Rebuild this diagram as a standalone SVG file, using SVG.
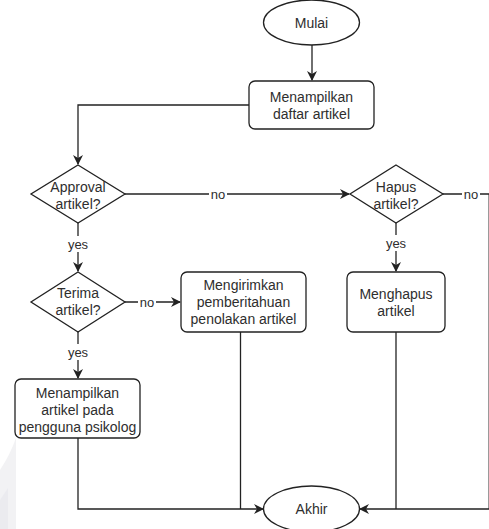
<svg xmlns="http://www.w3.org/2000/svg" width="489" height="529" viewBox="0 0 489 529">
  <style>
    .shape { fill: #ffffff; stroke: #222222; stroke-width: 1.3; }
    .edge { fill: none; stroke: #222222; stroke-width: 1.3; }
    .lbl { font-family: "Liberation Sans", Arial, sans-serif; font-size: 14px; fill: #2e2e2e; text-anchor: middle; }
    .elbl { font-family: "Liberation Sans", Arial, sans-serif; font-size: 13px; fill: #2e2e2e; text-anchor: middle; }
    .bg { fill: #ffffff; }
  </style>
  <defs>
    <marker id="arrow" viewBox="0 0 10 10" refX="9" refY="5" markerWidth="10" markerHeight="10" markerUnits="userSpaceOnUse" orient="auto">
      <path d="M0,0 L10,5 L0,10 L3,5 Z" fill="#222222"/>
    </marker>
  </defs>
  <rect width="489" height="529" fill="#ffffff"/>

  <!-- faint background mark, lower left -->
  <path d="M0,470 Q10,455 16,438 L16,529 L0,529 Z" fill="#f2f2f4"/>
  <path d="M0,500 L8,488 L8,529 L0,529 Z" fill="#ebebef"/>

  <g id="connectors">
    <path class="edge" d="M312,45 V80" marker-end="url(#arrow)"/>
    <path class="edge" d="M249,105 H78 V164" marker-end="url(#arrow)"/>
    <path class="edge" d="M125,194 H349" marker-end="url(#arrow)"/>
    <path class="edge" d="M78,223 V271" marker-end="url(#arrow)"/>
    <path class="edge" d="M125,302 H180" marker-end="url(#arrow)"/>
    <path class="edge" d="M78,332 V378" marker-end="url(#arrow)"/>
    <path class="edge" d="M396,223 V271" marker-end="url(#arrow)"/>
    <path class="edge" d="M78,438 V509 H263" marker-end="url(#arrow)"/>
    <path class="edge" d="M240.5,332 V509"/>
    <path class="edge" d="M443,194 H489.2 V509 H360" marker-end="url(#arrow)"/>
    <path class="edge" d="M396,332 V509"/>

    <rect class="bg" x="209" y="186" width="18" height="16"/>
    <text class="elbl" x="218" y="198.5">no</text>
    <rect class="bg" x="462" y="186" width="18" height="16"/>
    <text class="elbl" x="471" y="198.5">no</text>
    <rect class="bg" x="138" y="294" width="18" height="16"/>
    <text class="elbl" x="147" y="306.5">no</text>
    <rect class="bg" x="66" y="236" width="24" height="16"/>
    <text class="elbl" x="78" y="248.5">yes</text>
    <rect class="bg" x="66" y="344" width="24" height="16"/>
    <text class="elbl" x="78" y="356.5">yes</text>
    <rect class="bg" x="384" y="235" width="24" height="16"/>
    <text class="elbl" x="396" y="247.5">yes</text>
  </g>

  <g id="mulai">
    <ellipse class="shape" cx="311.5" cy="22.5" rx="48" ry="22.5"/>
    <text class="lbl" x="311.5" y="27.5">Mulai</text>
  </g>

  <g id="daftar-artikel">
    <rect class="shape" x="249" y="81" width="125" height="48" rx="6"/>
    <text class="lbl" x="311.5" y="101.5">Menampilkan</text>
    <text class="lbl" x="311.5" y="118.5">daftar artikel</text>
  </g>

  <g id="approval">
    <path class="shape" d="M78,165 L125,194 L78,223 L31,194 Z"/>
    <text class="lbl" x="78" y="192">Approval</text>
    <text class="lbl" x="78" y="209">artikel?</text>
  </g>

  <g id="hapus">
    <path class="shape" d="M396,165 L443,194 L396,223 L350,194 Z"/>
    <text class="lbl" x="396" y="192">Hapus</text>
    <text class="lbl" x="396" y="209">artikel?</text>
  </g>

  <g id="terima">
    <path class="shape" d="M78,272 L125,302 L78,332 L31,302 Z"/>
    <text class="lbl" x="78" y="298">Terima</text>
    <text class="lbl" x="78" y="315">artikel?</text>
  </g>

  <g id="penolakan">
    <rect class="shape" x="181" y="272" width="125" height="60" rx="6"/>
    <text class="lbl" x="243.5" y="290">Mengirimkan</text>
    <text class="lbl" x="243.5" y="307">pemberitahuan</text>
    <text class="lbl" x="243.5" y="324">penolakan artikel</text>
  </g>

  <g id="menghapus">
    <rect class="shape" x="347" y="272" width="98" height="60" rx="6"/>
    <text class="lbl" x="396" y="299">Menghapus</text>
    <text class="lbl" x="396" y="316">artikel</text>
  </g>

  <g id="tampil-psikolog">
    <rect class="shape" x="15" y="379" width="125" height="59" rx="6"/>
    <text class="lbl" x="77.5" y="398">Menampilkan</text>
    <text class="lbl" x="77.5" y="415">artikel pada</text>
    <text class="lbl" x="77.5" y="432">pengguna psikolog</text>
  </g>

  <g id="akhir">
    <ellipse class="shape" cx="311.5" cy="509" rx="48" ry="23"/>
    <text class="lbl" x="311.5" y="514">Akhir</text>
  </g>
</svg>
